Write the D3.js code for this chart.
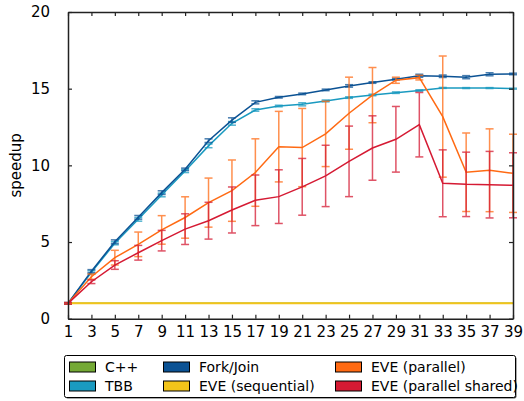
<!DOCTYPE html>
<html><head><meta charset="utf-8">
<script src="https://cdn.jsdelivr.net/npm/d3@7"></script>
<style>body{margin:0;background:#fff}svg{display:block;font-family:"DejaVu Sans",sans-serif}</style>
</head><body><svg id="c" width="524" height="401"></svg>
<script>
const threads = [1,3,5,7,9,11,13,15,17,19,21,23,25,27,29,31,33,35,37,39];
const xTicks = threads;
const yTicks = [0,5,10,15,20];

const cpp      = [1,1,1,1,1,1,1,1,1,1,1,1,1,1,1,1,1,1,1,1];
const cppErr   = [0,0,0,0,0,0,0,0,0,0,0,0,0,0,0,0,0,0,0,0];
const tbb      = [1,3.02,4.92,6.48,8.07,9.63,11.27,12.74,13.61,13.87,13.98,14.2,14.42,14.59,14.74,14.88,15.05,15.04,15.04,15.0];
const tbbErr   = [0.05,0.1,0.1,0.12,0.12,0.1,0.12,0.12,0.08,0.05,0.1,0.06,0.05,0.05,0.05,0.05,0.03,0.03,0.03,0.03];
const forkJoin = [1,3.1,5.02,6.61,8.22,9.74,11.61,12.95,14.11,14.44,14.66,14.92,15.18,15.4,15.62,15.84,15.81,15.75,15.94,15.96];
const forkErr  = [0.05,0.1,0.12,0.12,0.12,0.08,0.12,0.15,0.1,0.05,0.05,0.05,0.08,0.05,0.05,0.1,0.08,0.1,0.1,0.05];
const eveSeq   = [1,1,1,1,1,1,1,1,1,1,1,1,1,1,1,1,1,1,1,1];
const eveSeqErr= [0,0,0,0,0,0,0,0,0,0,0,0,0,0,0,0,0,0,0,0];
const evePar   = [1,2.74,3.98,4.85,5.79,6.6,7.57,8.35,9.53,11.22,11.16,12.05,13.4,14.58,15.55,15.72,13.18,9.55,9.68,9.48];
const eveParErr= [0.05,0.17,0.48,0.8,0.93,1.35,1.6,2.0,2.2,2.3,2.55,2.13,2.35,1.8,0.2,0.15,3.95,2.56,2.7,2.55];
const eveShr   = [1,2.41,3.5,4.3,5.09,5.84,6.39,7.09,7.72,7.96,8.6,9.31,10.26,11.13,11.7,12.65,8.83,8.76,8.74,8.7];
const eveShrErr= [0.05,0.12,0.28,0.48,0.67,1.0,1.2,1.5,1.65,1.75,1.85,2.0,2.3,2.1,2.14,2.1,2.18,2.1,2.17,2.12];

const seriesNames = ["C++","TBB","Fork/Join","EVE (sequential)","EVE (parallel)","EVE (parallel shared)"];
const colors = ["#74a935","#1a9ac0","#0b5294","#f2c41a","#ff6a13","#d51a33"];
const widths = [1.5,1.5,1.5,2,1.5,1.5];
const values = [cpp,tbb,forkJoin,eveSeq,evePar,eveShr];
const errs = [cppErr,tbbErr,forkErr,eveSeqErr,eveParErr,eveShrErr];

const svg = d3.select("#c");
const L=68,R=513,T=12,B=318.7;
const x = d3.scaleLinear().domain([1,39]).range([L,R]);
const y = d3.scaleLinear().domain([0,20]).range([B,T]);

// series
const line = d3.line().x((d,i)=>x(threads[i])).y(d=>y(d));
values.forEach((vals,k)=>{
  const g = svg.append("g");
  g.append("path").datum(vals).attr("d",line).attr("fill","none")
    .attr("stroke",colors[k]).attr("stroke-width",widths[k]);
  const e = errs[k];
  vals.forEach((v,i)=>{
    if(e[i]<=0) return;
    const cx=x(threads[i]), y1=y(v+e[i]), y2=y(v-e[i]);
    const eg=g.append("g").attr("stroke",colors[k]).attr("stroke-width",1.5).attr("opacity",0.75);
    eg.append("line").attr("x1",cx).attr("x2",cx).attr("y1",y1).attr("y2",y2);
    eg.append("line").attr("x1",cx-4).attr("x2",cx+4).attr("y1",y1).attr("y2",y1);
    eg.append("line").attr("x1",cx-4).attr("x2",cx+4).attr("y1",y2).attr("y2",y2);
  });
});

// axes (inward ticks on all sides)
const axCol="#222";
const axB = svg.append("g").attr("transform",`translate(0,${B})`)
  .call(d3.axisBottom(x).tickValues(xTicks).tickSizeInner(-4).tickSizeOuter(0).tickPadding(8).tickFormat(d3.format("d")));
const axT = svg.append("g").attr("transform",`translate(0,${T})`)
  .call(d3.axisTop(x).tickValues(xTicks).tickSizeInner(-4).tickSizeOuter(0).tickFormat(""));
const axL = svg.append("g").attr("transform",`translate(${L},0)`)
  .call(d3.axisLeft(y).tickValues(yTicks).tickSizeInner(-4).tickSizeOuter(0).tickPadding(18).tickFormat(d3.format("d")));
const axR = svg.append("g").attr("transform",`translate(${R},0)`)
  .call(d3.axisRight(y).tickValues(yTicks).tickSizeInner(-4).tickSizeOuter(0).tickFormat(""));
[axB,axT,axL,axR].forEach(a=>{
  a.selectAll("path").attr("stroke",axCol).attr("stroke-width",1.5);
  a.selectAll("line").attr("stroke",axCol).attr("stroke-width",1.2);
  a.selectAll("text").attr("font-size",15).attr("fill","#000").attr("font-family","DejaVu Sans");
});
svg.append("text").attr("transform",`translate(21,${(T+B)/2}) rotate(-90)`)
  .attr("text-anchor","middle").attr("font-size",15).text("speedup");

// legend
const lg = svg.append("g");
lg.append("rect").attr("x",65.5).attr("y",356.5).attr("width",451).attr("height",42).attr("rx",2)
  .attr("fill","#555");
lg.append("rect").attr("x",64.5).attr("y",355.5).attr("width",451).attr("height",42).attr("rx",2)
  .attr("fill","#fff").attr("stroke","#000").attr("stroke-width",1);
const colX=[69,163,335], rowY=[367,386];
seriesNames.forEach((n,k)=>{
  const cx=colX[Math.floor(k/2)], cy=rowY[k%2];
  lg.append("rect").attr("x",cx+0.5).attr("y",cy-5).attr("width",26).attr("height",10)
    .attr("fill",colors[k]).attr("stroke","#000").attr("stroke-width",1);
  lg.append("text").attr("x",cx+36).attr("y",cy+5).attr("font-size",14).text(n);
});
</script></body></html>
